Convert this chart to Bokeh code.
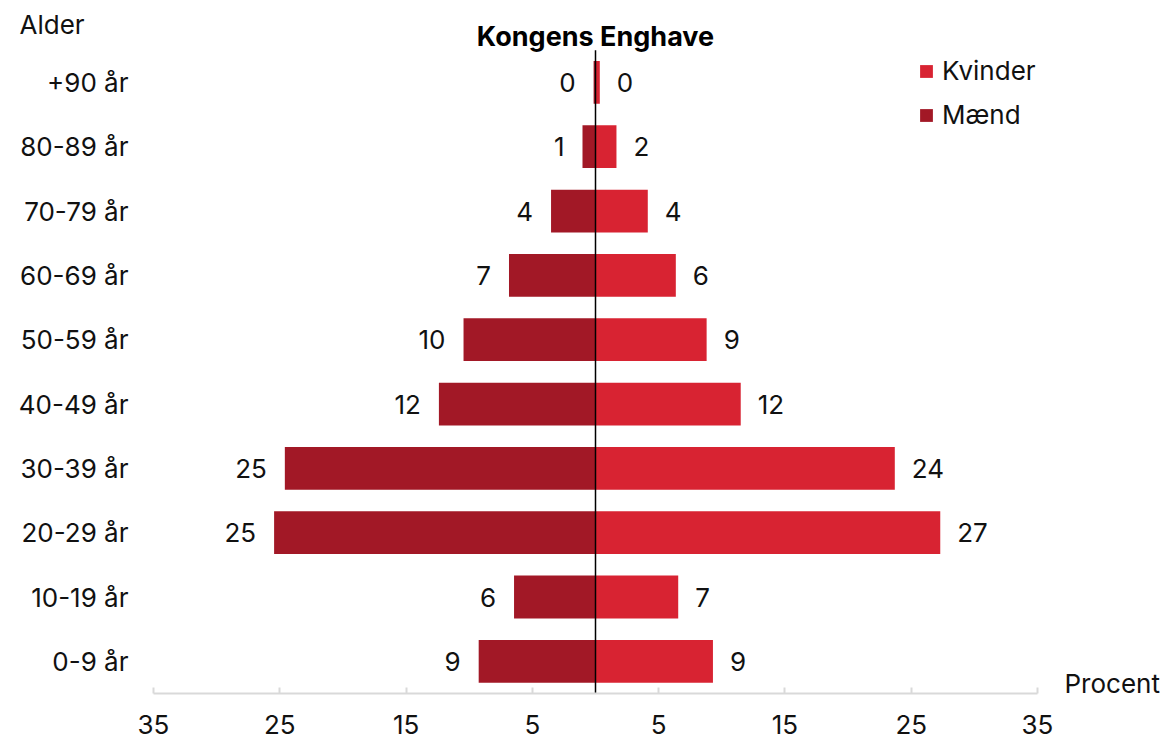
from bokeh.plotting import figure
from bokeh.models import (ColumnDataSource, Range1d, FixedTicker, Label, LabelSet,
                          Legend, LegendItem)
from bokeh.core.properties import value
from bokeh.embed import file_html
from bokeh.resources import INLINE

# ---- data ----
categories = ["0-9 år", "10-19 år", "20-29 år", "30-39 år", "40-49 år",
              "50-59 år", "60-69 år", "70-79 år", "80-89 år", "+90 år"]
maend = [9.25, 6.45, 25.45, 24.6, 12.4, 10.45, 6.85, 3.52, 1.03, 0.15]
kvinder = [9.3, 6.55, 27.3, 23.7, 11.5, 8.8, 6.36, 4.14, 1.66, 0.34]
x_ticks = [-35, -25, -15, -5, 5, 15, 25, 35]
title_text = "Kongens Enghave"
y_title = "Alder"
x_title = "Procent"

FONT = "Inter"
FS = "26px"
MEN_COLOR = "#A21826"
WOMEN_COLOR = "#D82332"
TXT = "#111111"
AXIS_GREY = "#d9d9d9"

# layout geometry (pixels)
PX_PER_UNIT = 884 / 70.0      # x scale
ROW_PX = 64.33                # y scale (one category row)
FRAME_W, FRAME_H = 1160, 693
LEFT_PX = 153                 # pixel of x = -35

n = len(categories)
ypos = list(range(n))
x_start = -35 - LEFT_PX / PX_PER_UNIT
x_end = x_start + FRAME_W / PX_PER_UNIT
y_start = -0.5
y_end = y_start + FRAME_H / ROW_PX

src = ColumnDataSource(dict(
    y=ypos,
    men_left=[-v for v in maend],
    zero=[0] * n,
    women=kvinder,
    men_lbl=[str(int(v + 0.5)) for v in maend],
    women_lbl=[str(int(v + 0.5)) for v in kvinder],
    cat=categories,
    cat_x=[-35 - 25 / PX_PER_UNIT] * n,
))

p = figure(frame_width=FRAME_W, frame_height=FRAME_H,
           min_border_left=0, min_border_right=0,
           min_border_top=0, min_border_bottom=46,
           x_range=Range1d(x_start, x_end), y_range=Range1d(y_start, y_end),
           output_backend="svg", toolbar_location=None)
p.outline_line_color = None
p.xgrid.visible = False
p.ygrid.visible = False
p.yaxis.visible = False
p.background_fill_color = "white"
p.border_fill_color = "white"

men_r = p.hbar(y="y", left="men_left", right="zero", height=0.665,
               fill_color=MEN_COLOR, line_color=None, source=src)
women_r = p.hbar(y="y", left="zero", right="women", height=0.665,
                 fill_color=WOMEN_COLOR, line_color=None, source=src)

# centre line (from top of first row to the axis)
p.segment(x0=[0], y0=[-0.5], x1=[0], y1=[n - 0.5], line_color="black", line_width=1.5)

# category labels (y axis)
p.text(x="cat_x", y="y", text="cat", source=src, text_align="right",
       text_baseline="middle", text_font=value(FONT), text_font_size=FS,
       text_color=TXT)

# data labels
p.add_layout(LabelSet(x="men_left", y="y", text="men_lbl", source=src, x_offset=-18,
                      text_align="right", text_baseline="middle",
                      text_font=value(FONT), text_font_size=FS, text_color=TXT))
p.add_layout(LabelSet(x="women", y="y", text="women_lbl", source=src, x_offset=17,
                      text_align="left", text_baseline="middle",
                      text_font=value(FONT), text_font_size=FS, text_color=TXT))

# x axis
xa = p.xaxis[0]
xa.ticker = FixedTicker(ticks=x_ticks)
xa.bounds = (-35, 35)
xa.major_label_overrides = {t: str(abs(t)) for t in x_ticks}
xa.axis_line_color = AXIS_GREY
xa.axis_line_width = 2
xa.major_tick_line_color = AXIS_GREY
xa.major_tick_line_width = 2
xa.major_tick_in = 6
xa.major_tick_out = 0
xa.minor_tick_line_color = None
xa.major_label_standoff = 21
xa.major_label_text_font = FONT
xa.major_label_text_font_size = FS
xa.major_label_text_color = TXT

# titles
p.add_layout(Label(x=0, y=(n - 1) + 46 / ROW_PX, text=title_text, text_align="center",
                   text_baseline="alphabetic", text_font=FONT, text_font_size="27px",
                   text_font_style="bold", text_color="black"))
p.add_layout(Label(x=-35 - 134 / PX_PER_UNIT, y=(n - 1) + 58 / ROW_PX, text=y_title,
                   text_align="left", text_baseline="alphabetic", text_font=FONT,
                   text_font_size=FS, text_color=TXT))
p.add_layout(Label(x=35 + 27 / PX_PER_UNIT, y=-0.5 + 10 / ROW_PX, text=x_title,
                   text_align="left", text_baseline="alphabetic", text_font=FONT,
                   text_font_size=FS, text_color=TXT))

legend = Legend(items=[LegendItem(label="Kvinder", renderers=[women_r]),
                       LegendItem(label="Mænd", renderers=[men_r])],
                location=(918, 563), padding=0, margin=0, spacing=13,
                glyph_width=16, glyph_height=16, label_height=30,
                label_standoff=8, border_line_color=None,
                background_fill_alpha=0, label_text_font=FONT,
                label_text_font_size=FS, label_text_color=TXT)
p.add_layout(legend)

open("out.html", "w").write(file_html(p, INLINE))
